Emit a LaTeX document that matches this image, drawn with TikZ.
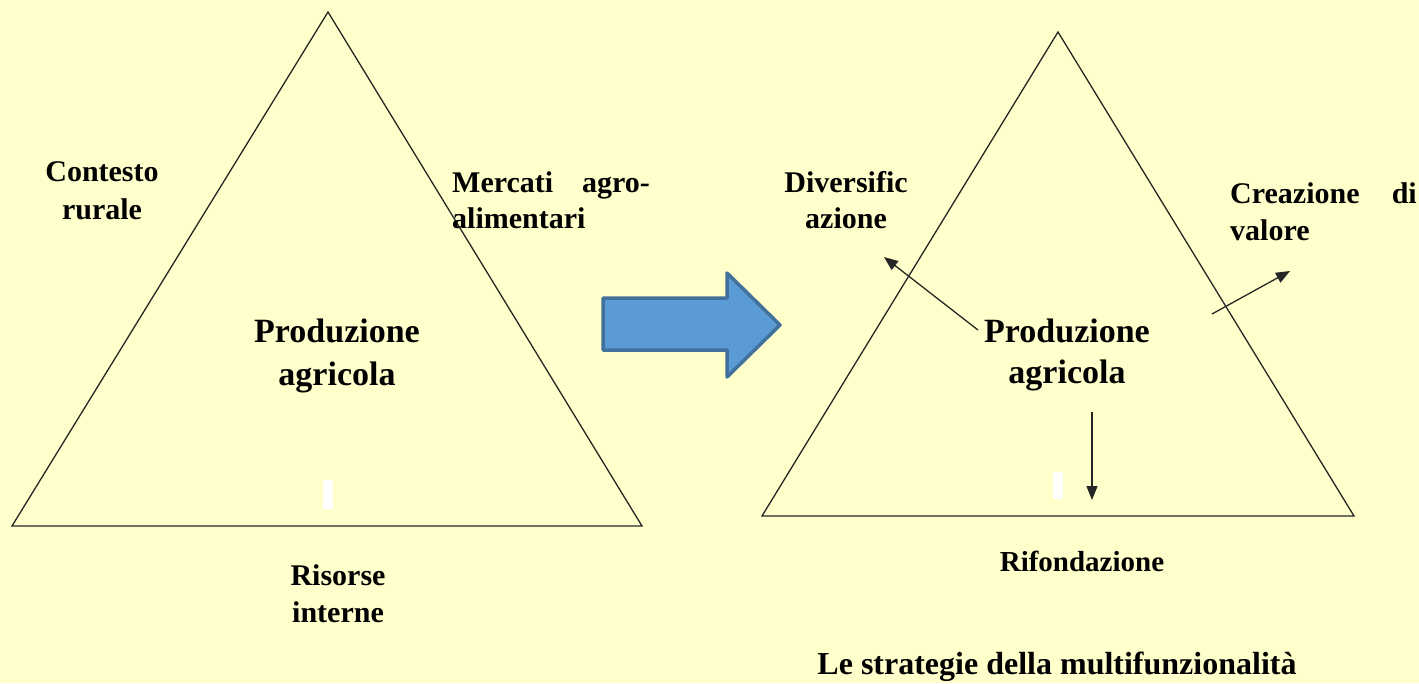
\documentclass[tikz,border=0pt]{standalone}
\usepackage{fontspec}
\setmainfont{Liberation Serif}[BoldFont={Liberation Serif Bold}]
\usetikzlibrary{arrows.meta}
\definecolor{bgyellow}{HTML}{FFFFCC}
\definecolor{arrfill}{HTML}{5B9BD5}
\definecolor{arredge}{HTML}{41719C}
\tikzset{
  tri/.style={draw=black!85, line width=1.3pt, line join=miter},
  lbl/.style={font=\bfseries\fontsize{30}{37}\selectfont, inner sep=0pt, anchor=base},
  big/.style={font=\bfseries\fontsize{34}{42}\selectfont, inner sep=0pt, anchor=base},
  conn/.style={draw=black!85, line width=1.3pt, -{Triangle[length=14pt,width=11pt]}},
  blank/.style={fill=white, draw=none}
}
\begin{document}
\begin{tikzpicture}[x=1pt,y=-1pt]
\useasboundingbox (0,0) rectangle (1419,683);
\fill[bgyellow] (0,0) rectangle (1419,683);
% left triangle
\draw[tri] (328,12) -- (642,526) -- (12,526) -- cycle;
\fill[blank] (323,480) rectangle (333,509);
% right triangle
\draw[tri] (1058,32) -- (1354,516) -- (762,516) -- cycle;
\fill[blank] (1053,472) rectangle (1063,499);
% block arrow
\draw[fill=arrfill, draw=arredge, line width=3.5pt, line join=round]
  (603,298) -- (727,298) -- (727,273) -- (780,325) -- (727,377) -- (727,350) -- (603,350) -- cycle;
% left texts
\node[lbl] (ctx1) at (102,181) {Contesto};
\node[lbl] (ctx2) at (102,219) {rurale};
\node[lbl, anchor=base west] (mer1) at (452,192) {Mercati};
\node[lbl, anchor=base east] (mer1b) at (650,192) {agro-};
\node[lbl, anchor=base west] (mer2) at (452,228) {alimentari};
\node[big] (pa1) at (337,342) {Produzione};
\node[big] (pa2) at (337,385) {agricola};
\node[lbl] (ris1) at (338,585) {Risorse};
\node[lbl] (ris2) at (338,622) {interne};
% right texts
\node[lbl] (div1) at (846,192) {Diversific};
\node[lbl] (div2) at (846,228) {azione};
\node[lbl, anchor=base west] (cre1) at (1230,203) {Creazione};
\node[lbl, anchor=base east] (cre1b) at (1417,203) {di};
\node[lbl, anchor=base west] (cre2) at (1230,240) {valore};
\node[big] (pb1) at (1067,342) {Produzione};
\node[big] (pb2) at (1067,383) {agricola};
\node[lbl, font=\bfseries\fontsize{29}{37}\selectfont] (rif) at (1082,571) {Rifondazione};
\node[big, font=\bfseries\fontsize{32}{38}\selectfont] (title) at (1057,674) {Le strategie della multifunzionalità};
% connectors
\coordinate (s1) at (978,330); \coordinate (e1) at (884,257);
\coordinate (s2) at (1212,314); \coordinate (e2) at (1290,271);
\coordinate (s3) at (1092,412); \coordinate (e3) at (1092,500);
\draw[conn] (s1) -- (e1);
\draw[conn] (s2) -- (e2);
\draw[conn] (s3) -- (e3);
\end{tikzpicture}
\end{document}
